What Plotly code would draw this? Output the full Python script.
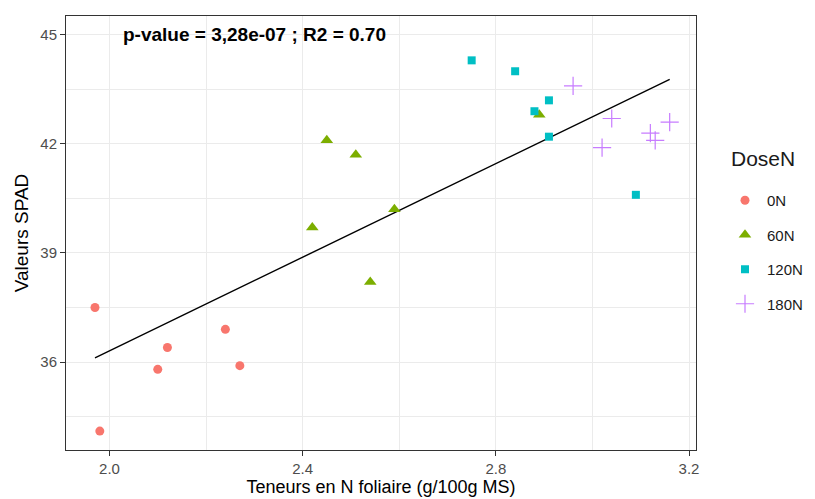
import numpy as np
import plotly.graph_objects as go

# Data
x_0N = [1.97, 1.98, 2.10, 2.12, 2.24, 2.27]
y_0N = [37.5, 34.1, 35.8, 36.4, 36.9, 35.9]
x_60N = [2.45, 2.51, 2.42, 2.59, 2.54, 2.89]
y_60N = [42.1, 41.7, 39.7, 40.2, 38.2, 42.8]
x_120N = [2.75, 2.84, 2.91, 2.88, 2.91, 3.09]
y_120N = [44.3, 44.0, 43.2, 42.9, 42.2, 40.6]
x_180N = [2.96, 3.04, 3.02, 3.12, 3.13, 3.16]
y_180N = [43.6, 42.7, 41.9, 42.3, 42.1, 42.6]

groups = ["0N", "60N", "120N", "180N"]
colors = ["#F8766D", "#7CAE00", "#00BFC4", "#C77CFF"]
annotation_text = "p-value = 3,28e-07 ; R2 = 0.70"
legend_title = "DoseN"
x_ticks = [2.0, 2.4, 2.8, 3.2]
y_ticks = [36, 39, 42, 45]

xs = [x_0N, x_60N, x_120N, x_180N]
ys = [y_0N, y_60N, y_120N, y_180N]
symbols = ["circle", "triangle-up", "square", "cross-thin-open"]
sizes = [9, 11, 8, 13]

FONT = "Liberation Sans, Arial, Helvetica, sans-serif"

# The page body has an 8px margin, so the figure is drawn 8px in and down.
OFF = 8
W, H = 815 - OFF, 499 - OFF
# target panel in page pixels: left 66, right 696, top 16, bottom 450
ML, MT = 66 - OFF, 16 - OFF
MR, MB = W - (696 - OFF), H - (450 - OFF)
pw, ph = W - ML - MR, H - MT - MB


def px_to_paper(px, py):
    return (px - OFF - ML) / pw, 1 - (py - OFF - MT) / ph


def px_to_container(px, py):
    return (px - OFF) / W, 1 - (py - OFF) / H


fig = go.Figure()

# regression line (least squares over all points)
all_x = np.concatenate([np.array(v) for v in xs])
all_y = np.concatenate([np.array(v) for v in ys])
slope, intercept = np.polyfit(all_x, all_y, 1)
lx = np.array([all_x.min(), all_x.max()])
fig.add_trace(go.Scatter(x=lx, y=slope * lx + intercept, mode="lines",
                         line=dict(color="black", width=1.4),
                         showlegend=False, hoverinfo="skip"))

for g, c, xv, yv, s, sz in zip(groups, colors, xs, ys, symbols, sizes):
    mk = dict(color=c, symbol=s, size=sz)
    if s == "cross-thin-open":
        mk["line"] = dict(color=c, width=1.2)
    fig.add_trace(go.Scatter(x=xv, y=yv, mode="markers", name=g, marker=mk,
                             legendgroup=g))

fig.add_annotation(x=2.3, y=45, xref="x", yref="y", text="<b>" + annotation_text + "</b>",
                   showarrow=False, font=dict(family=FONT, size=19, color="black"))

# legend title drawn as annotation
tx, ty = px_to_paper(729, 158)
fig.add_annotation(x=tx, y=ty, xref="paper", yref="paper", text=legend_title,
                   showarrow=False, xanchor="left", yanchor="middle",
                   font=dict(family=FONT, size=21, color="#1a1a1a"))

axis_common = dict(
    showline=True, mirror=True, linecolor="#333333", linewidth=1,
    showgrid=True, gridcolor="#ebebeb", gridwidth=1,
    ticks="outside", ticklen=5, tickcolor="#333333", tickwidth=1,
    tickfont=dict(family=FONT, size=15, color="#4d4d4d"),
    zeroline=False, automargin=False,
)

fig.update_xaxes(**axis_common, range=[1.91, 3.2145], tickvals=x_ticks,
                 ticktext=[f"{v:.1f}" for v in x_ticks],
                 minor=dict(dtick=0.2, tick0=2.0, showgrid=True, gridcolor="#ebebeb", gridwidth=0.6, ticks=""),
                 title=dict(text="Teneurs en N foliaire (g/100g MS)", standoff=4,
                            font=dict(family=FONT, size=18, color="black")))
fig.update_yaxes(**axis_common, range=[33.58, 45.52], tickvals=y_ticks,
                 ticktext=[str(v) for v in y_ticks],
                 minor=dict(dtick=1.5, tick0=36, showgrid=True, gridcolor="#ebebeb", gridwidth=0.6, ticks=""),
                 title=dict(text="Valeurs SPAD", standoff=6,
                            font=dict(family=FONT, size=19, color="black")))

lgx, lgy = px_to_container(723, 184)
fig.update_layout(
    width=W, height=H,
    margin=dict(l=ML, r=MR, t=MT, b=MB),
    plot_bgcolor="white", paper_bgcolor="white",
    font=dict(family=FONT, color="black"),
    legend=dict(font=dict(family=FONT, size=15, color="#1a1a1a"),
                xref="container", yref="container",
                x=lgx, xanchor="left", y=lgy, yanchor="top",
                tracegroupgap=12, itemwidth=34),
)

fig.write_html("out.html")
